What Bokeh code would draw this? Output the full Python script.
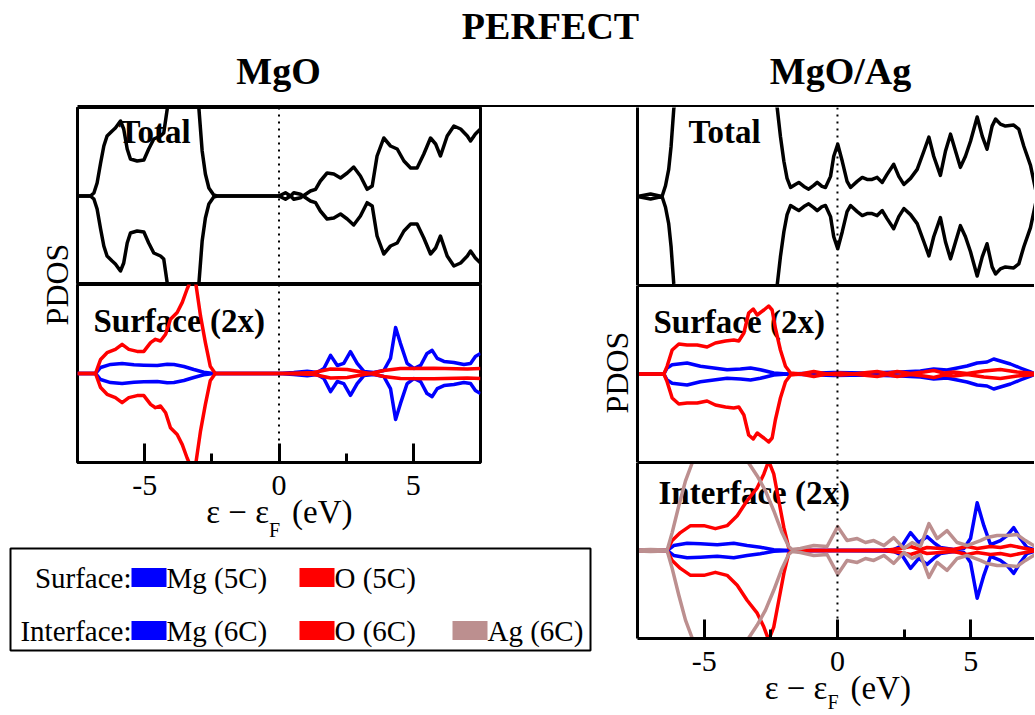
import math
from bokeh.plotting import figure
from bokeh.layouts import column, row
from bokeh.models import Range1d, LinearAxis, FixedTicker, Label, Span
from bokeh.embed import file_html
from bokeh.resources import INLINE
from bokeh.core.properties import value

FONT = "Liberation Serif"
BLUE, RED, BROWN = "#0000FF", "#FF0000", "#BC8F8F"

# ---------------- data (energy in eV relative to E_F, spin-up PDOS, arb. units) -------------
# spin-down channel is drawn mirrored (negative)
mgo_total_e = [-7.5, -7.02, -6.89, -6.77, -6.64, -6.52, -6.40, -6.21, -6.09, -5.90, -5.78, -5.65,
               -5.53, -5.28, -5.03, -4.85, -4.66, -4.41, -4.29, -4.16, -3.91, -3.60, -3.29, -3.11,
               -2.98, -2.86, -2.74, -2.61, -2.43, -2.30, 0.0, 0.24, 0.43, 0.55, 0.80, 1.17, 1.36,
               1.54, 1.79, 2.04, 2.29, 2.54, 2.78, 3.03, 3.28, 3.47, 3.65, 3.90, 4.15, 4.40, 4.65,
               4.90, 5.14, 5.39, 5.64, 5.83, 6.01, 6.26, 6.51, 6.76, 7.01, 7.13, 7.31, 7.5]
mgo_total = [0, 0, 0.3, 1.3, 3.3, 5.0, 6.0, 6.5, 6.8, 7.5, 6.7, 4.7, 3.7, 3.5, 3.6, 4.7, 5.7, 6.0,
             6.3, 8.7, 12.0, 14.0, 15.0, 12.0, 8.7, 4.5, 2.2, 0.8, 0.1, 0, 0, 0.33, 0, -0.33, -0.17,
             0.5, 0.67, 1.5, 2.3, 2.2, 1.8, 2.3, 2.9, 2.0, 0.67, 1.0, 4.0, 5.8, 5.0, 4.7, 3.5, 2.8,
             2.8, 4.2, 5.8, 5.2, 4.0, 6.0, 7.0, 6.7, 6.0, 5.5, 6.2, 6.7]

mgo_surf_o_e = [-7.5, -6.83, -6.64, -6.40, -6.09, -5.84, -5.59, -5.28, -5.03, -4.78, -4.60, -4.41,
                -4.22, -4.04, -3.79, -3.60, -3.42, -3.29, -3.19, -3.11, -2.92, -2.74, -2.56, -2.37,
                0.0, 0.80, 1.30, 1.92, 2.54, 3.16, 3.41, 3.90, 4.52, 5.76, 7.01, 7.5]
mgo_surf_o = [0, 0, 1.4, 2.07, 2.4, 2.9, 2.4, 2.2, 2.2, 3.07, 3.4, 3.23, 3.9, 5.4, 6.07, 7.07, 8.4,
              9.2, 10.0, 9.2, 5.7, 3.07, 0.73, 0, 0, 0.05, 0.1, 0.45, 0.4, 0.1, 0, 0.3, 0.5, 0.53,
              0.45, 0.5]

mgo_surf_mg_e = [-7.5, -6.83, -6.64, -6.27, -5.84, -5.40, -5.03, -4.53, -4.16, -3.91, -3.54, -3.17,
                 -2.80, -2.43, 0.0, 0.55, 1.05, 1.42, 1.67, 1.92, 2.17, 2.41, 2.66, 2.91, 3.16,
                 3.53, 3.90, 4.15, 4.34, 4.52, 4.77, 5.02, 5.27, 5.51, 5.70, 5.89, 6.14, 6.51,
                 6.88, 7.13, 7.31, 7.5]
mgo_surf_mg = [0, 0, 0.6, 0.9, 1.0, 0.87, 0.83, 0.8, 0.93, 0.9, 0.7, 0.4, 0.13, 0, 0, 0.1, 0.23,
               0.1, 0.5, 1.8, 0.8, 1.0, 2.17, 1.0, 0.2, 0.1, 0.3, 1.5, 4.57, 3.0, 1.0, 0.5, 0.8,
               2.0, 2.3, 1.5, 1.2, 1.1, 0.9, 1.0, 1.7, 2.0]

ag_total_e = [-7.5, -7.01, -6.58, -6.45, -6.33, -6.24, -6.14, -5.9, -5.5, -5.0, -4.5, -4.0, -3.5,
              -3.0, -2.6, -2.4, -2.26, -2.14, -2.01, -1.89, -1.76, -1.58, -1.45, -1.26, -1.08,
              -0.89, -0.76, -0.58, -0.45, -0.26, -0.14, 0.01, 0.18, 0.36, 0.49, 0.74, 0.93, 1.11,
              1.30, 1.49, 1.68, 1.86, 2.11, 2.30, 2.49, 2.74, 2.99, 3.24, 3.43, 3.61, 3.86, 4.05,
              4.24, 4.43, 4.61, 4.80, 4.99, 5.24, 5.43, 5.61, 5.80, 5.93, 6.11, 6.30, 6.61, 6.80,
              6.99, 7.24, 7.43, 7.5]
ag_total = [0, 0.25, 0, 1.07, 2.7, 5.0, 8.7, 12.5, 14.0, 13.0, 13.5, 14.5, 14.0, 15.0, 13.0, 10.5,
            8.8, 6.0, 3.5, 1.8, 0.9, 1.2, 1.4, 1.0, 0.73, 1.1, 1.4, 1.0, 0.9, 2.0, 4.0, 5.2, 3.5,
            1.5, 0.9, 1.5, 1.9, 1.7, 1.7, 1.9, 1.4, 2.2, 3.2, 2.0, 1.2, 1.8, 2.7, 4.5, 5.9, 4.0,
            2.1, 4.5, 6.2, 4.5, 2.9, 4.0, 5.5, 7.9, 6.0, 4.7, 7.0, 7.7, 7.2, 7.0, 7.1, 6.7, 5.0,
            3.1, 0.7, 0.3]

ag_surf_o_e = [-7.5, -6.51, -6.39, -6.2, -5.95, -5.64, -5.26, -4.89, -4.58, -4.2, -3.89, -3.7,
               -3.51, -3.33, -3.16, -3.01, -2.76, -2.58, -2.45, -2.33, -2.14, -1.95, -1.76, -1.39,
               -0.89, -0.39, 0.11, 0.61, 1.11, 1.49, 1.86, 2.24, 2.74, 3.24, 3.61, 3.99, 4.36,
               4.86, 5.49, 6.11, 6.74, 7.43, 7.5]
ag_surf_o = [0, 0, 0.77, 2.4, 3.0, 2.9, 2.9, 2.7, 3.1, 3.3, 3.4, 3.3, 4.1, 6.1, 6.5, 5.9, 6.4, 6.8,
             6.4, 4.6, 2.4, 0.77, 0.1, 0, 0.25, 0, 0.1, 0, 0.15, 0.25, 0.05, 0.25, 0.05, 0.2, 0.35,
             0.1, 0.2, 0.05, 0.3, 0.45, 0.2, 0.05, 0.05]

ag_surf_mg_e = [-7.5, -6.51, -6.39, -6.2, -5.64, -5.14, -4.64, -4.14, -3.64, -3.26, -2.89, -2.39,
                -1.89, -0.14, 1.11, 2.36, 3.11, 3.61, 4.11, 4.49, 4.86, 5.24, 5.61, 5.86, 6.11,
                6.49, 6.86, 7.24, 7.43, 7.5]
ag_surf_mg = [0, 0, 0.6, 0.93, 1.1, 0.77, 0.6, 0.43, 0.5, 0.6, 0.43, 0.1, 0, 0.15, 0.1, 0.2, 0.3,
              0.5, 0.4, 0.6, 0.8, 1.1, 1.2, 1.5, 1.3, 1.0, 0.6, 0.2, 0, 0]

ag_int_o_e = [-7.5, -6.39, -6.2, -5.89, -5.51, -5.01, -4.58, -4.14, -3.76, -3.39, -3.01, -2.76,
              -2.58, -2.39, -2.2, -2.01, -1.83, -1.7, 1.74, 2.36, 2.74, 3.11, 3.36, 3.86, 4.36,
              4.86, 5.24, 5.74, 6.11, 6.49, 6.86, 7.24, 7.5]
ag_int_o = [0, 0, 1.0, 1.8, 2.5, 2.5, 2.2, 2.5, 3.5, 5.0, 6.3, 7.7, 9.0, 7.7, 5.0, 2.3, 0.3, 0, 0,
            0.2, 0.4, 0.1, 0.3, 0.2, 0.1, 0.4, 0.2, 0.4, 0.3, 0.5, 0.3, 0.1, 0]

ag_int_mg_e = [-7.5, -6.39, -6.14, -5.64, -5.14, -4.51, -3.89, -3.39, -2.89, -2.39, -1.76, 1.74,
               2.11, 2.43, 2.74, 3.05, 3.36, 3.61, 3.86, 4.36, 4.74, 4.99, 5.24, 5.49, 5.74, 6.11,
               6.36, 6.61, 6.86, 7.11, 7.36, 7.5]
ag_int_mg = [0, 0, 0.5, 0.73, 0.67, 0.57, 0.73, 0.5, 0.33, 0.07, 0, 0.05, 0.1, 0.5, 1.8, 0.8, 1.4,
             0.8, 0.3, 0.1, 0.2, 1.2, 4.8, 2.5, 0.6, 1.0, 1.5, 2.3, 1.2, 0.3, 0.1, 0]

ag_int_ag_e = [-7.5, -7.01, -6.45, -6.39, -6.2, -5.95, -5.7, -5.45, -5.14, -4.64, -4.14, -3.64,
               -3.33, -3.01, -2.7, -2.39, -2.08, -1.83, -1.7, -1.39, -0.89, -0.39, 0.01, 0.36,
               0.74, 1.05, 1.36, 1.74, 2.11, 2.49, 2.8, 3.11, 3.43, 3.74, 4.11, 4.49, 4.86, 5.36,
               5.61, 5.99, 6.36, 6.74, 7.05, 7.36, 7.5]
ag_int_ag = [0.05, 0.1, 0.05, 0, 1.8, 4.5, 7.0, 8.8, 10.5, 12.0, 12.5, 11.0, 8.8, 7.5, 6.0, 4.0,
             1.8, 0.4, 0.1, 0.2, 0.5, 0.4, 2.4, 1.0, 1.2, 0.8, 1.0, 0.5, 1.3, 0.2, 0.8, 0.4, 2.7,
             1.2, 2.0, 0.8, 0.5, 1.0, 1.3, 1.5, 1.5, 1.6, 1.0, 0.5, 0.4]

x_ticks = [-5, 0, 5]
x_tick_labels = ["-5", "0", "5"]
x_minor_ticks = [-2.5, 2.5]
legend_rows = ["Surface:", "Interface:"]
legend_items = [["Mg (5C)", "O (5C)"], ["Mg (6C)", "O (6C)", "Ag (6C)"]]
legend_colors = [[BLUE, RED], [BLUE, RED, BROWN]]

# ---------------- layout constants ----------------
YLIM = 8.85
LW = 3.5
LEFT_X = Range1d(-7.5, 7.5)
RIGHT_X = Range1d(-7.5, 7.39)
LW_FIG, RW_FIG = 517, 399       # panel figure widths (left / right column)


def base(w, h, xr, yr, lb=0, rb=0, tb=0, bb=0):
    p = figure(width=w, height=h, x_range=xr, y_range=yr,
               x_axis_type=None, y_axis_type=None, toolbar_location=None,
               output_backend="svg", title=None,
               min_border_left=lb, min_border_right=rb, min_border_top=tb, min_border_bottom=bb)
    p.outline_line_color = None
    p.border_fill_color = "white"
    p.background_fill_color = "white"
    return p


def panel(xr, w, h, lb, rb, bb, outline):
    p = base(w, h, xr, Range1d(-YLIM, YLIM), lb, rb, 0, bb)
    if outline:
        p.outline_line_color = "black"
        p.outline_line_width = 3
    p.add_layout(Span(location=0, dimension="height", line_color="black",
                      line_width=2, line_dash="2 5"))
    return p


def line_axis(p, side):
    ax = LinearAxis(ticker=FixedTicker(ticks=[]), major_tick_in=0, major_tick_out=0,
                    minor_tick_in=0, minor_tick_out=0, axis_line_width=3,
                    major_label_standoff=0, major_label_text_font_size="0px")
    p.add_layout(ax, side)


def tick_axis(p):
    ax = LinearAxis(ticker=FixedTicker(ticks=x_ticks, minor_ticks=x_minor_ticks),
                    major_tick_in=19, major_tick_out=0, minor_tick_in=9, minor_tick_out=0,
                    major_tick_line_width=3, minor_tick_line_width=3, axis_line_width=3,
                    major_label_standoff=0, major_label_text_font_size="0px",
                    major_label_overrides={t: "" for t in x_ticks})
    p.add_layout(ax, "below")


def xlabel_fig(xr, w, h, lb, rb, y_ticks, y_lab, y_sub):
    p = base(w, h, xr, Range1d(0, h), lb, rb, 0, 0)
    p.text(x=x_ticks, y=[y_ticks] * len(x_ticks), text=x_tick_labels, text_font=value(FONT),
           text_font_size="30px", text_align="center", text_baseline="middle",
           text_color="black")
    p.text(x=[0], y=[y_lab], text=["ε − ε"], x_offset=-10, text_font=value(FONT),
           text_font_size="33px", text_align="right", text_baseline="middle",
           text_color="black")
    p.text(x=[0], y=[y_sub], text=["F"], x_offset=-10, text_font=value(FONT),
           text_font_size="20px", text_align="left", text_baseline="middle",
           text_color="black")
    p.text(x=[0], y=[y_lab], text=["(eV)"], x_offset=13, text_font=value(FONT),
           text_font_size="33px", text_align="left", text_baseline="middle",
           text_color="black")
    return p


def tag(p, text, x, y):
    p.add_layout(Label(x=x, y=y, x_units="screen", y_units="screen", text=text,
                       text_font=FONT, text_font_size="33px", text_font_style="bold",
                       text_color="black", text_align="left", text_baseline="middle",
                       level="underlay"))


def spin(p, e, v, color):
    p.line(e, v, line_color=color, line_width=LW, line_join="round")
    p.line(e, [-a for a in v], line_color=color, line_width=LW, line_join="round")


def textfig(w, h):
    return base(w, h, Range1d(0, w), Range1d(0, h))


# ---------------- header ----------------
header = textfig(1034, 107)
header.text(x=[550], y=[81.5], text=["PERFECT"], text_font=value(FONT), text_font_size="38px",
            text_font_style="bold", text_align="center", text_baseline="middle")
header.text(x=[278, 840], y=[36.5, 36.5], text=["MgO", "MgO/Ag"], text_font=value(FONT),
            text_font_size="38px", text_font_style="bold", text_align="center",
            text_baseline="middle")
header.segment(x0=[77], y0=[1], x1=[1034], y1=[1], line_color="black", line_width=3)

# ---------------- left column (MgO) ----------------
L_total = panel(LEFT_X, LW_FIG, 177, 2, 112, 0, True)
tag(L_total, "Total", 41, 153)
spin(L_total, mgo_total_e, mgo_total, "black")

L_surf = panel(LEFT_X, LW_FIG, 181, 2, 112, 3, True)
tag(L_surf, "Surface (2x)", 16, 142)
spin(L_surf, mgo_surf_mg_e, mgo_surf_mg, BLUE)
spin(L_surf, mgo_surf_o_e, mgo_surf_o, RED)
tick_axis(L_surf)

L_xlab = xlabel_fig(LEFT_X, LW_FIG, 80, 2, 112, 60.5, 34, 16)

L_pdos = textfig(75, 438)
L_pdos.text(x=[56], y=[261], text=["PDOS"], angle=math.pi / 2, text_font=value(FONT),
            text_font_size="32px", text_align="center", text_baseline="middle")

leg = textfig(592, 120)
leg.quad(left=[10], right=[590], top=[117], bottom=[15], fill_color=None,
         line_color="black", line_width=2)
row_y = [88, 35]
item_x = [131, 299, 452]
for r, (lab, items, cols) in enumerate(zip(legend_rows, legend_items, legend_colors)):
    leg.text(x=[item_x[0]], y=[row_y[r]], text=[lab], text_font=value(FONT),
             text_font_size="29px", text_align="right", text_baseline="middle")
    xs = item_x[:len(items)]
    leg.rect(x=[x + 17.5 for x in xs], y=[row_y[r]] * len(xs), width=35, height=19,
             fill_color=cols, line_color=None)
    leg.text(x=[x + 35 for x in xs], y=[row_y[r]] * len(xs), text=items, text_font=value(FONT),
             text_font_size="29px", text_align="left", text_baseline="middle")

left_col = column(row(L_pdos, column(L_total, L_surf, L_xlab)), leg)

# ---------------- right column (MgO/Ag) ----------------
R_total = panel(RIGHT_X, RW_FIG, 178, 2, 0, 0, False)
line_axis(R_total, "left")
line_axis(R_total, "below")
tag(R_total, "Total", 51, 154)
spin(R_total, ag_total_e, ag_total, "black")

R_surf = panel(RIGHT_X, RW_FIG, 177, 2, 0, 0, False)
line_axis(R_surf, "left")
line_axis(R_surf, "above")
line_axis(R_surf, "below")
tag(R_surf, "Surface (2x)", 16, 141)
spin(R_surf, ag_surf_mg_e, ag_surf_mg, BLUE)
spin(R_surf, ag_surf_o_e, ag_surf_o, RED)

R_int = panel(RIGHT_X, RW_FIG, 179, 2, 0, 3, False)
line_axis(R_int, "left")
line_axis(R_int, "above")
tick_axis(R_int)
tag(R_int, "Interface (2x)", 21, 146)
spin(R_int, ag_int_mg_e, ag_int_mg, BLUE)
spin(R_int, ag_int_o_e, ag_int_o, RED)
spin(R_int, ag_int_ag_e, ag_int_ag, BROWN)

R_xlab = xlabel_fig(RIGHT_X, RW_FIG, 72, 2, 0, 52.5, 26, 11.5)

R_pdos = textfig(43, 606)
R_pdos.text(x=[24], y=[341], text=["PDOS"], angle=math.pi / 2, text_font=value(FONT),
            text_font_size="32px", text_align="center", text_baseline="middle")

right_col = row(R_pdos, column(R_total, R_surf, R_int, R_xlab))

layout = column(header, row(left_col, right_col))
open("out.html", "w").write(file_html(layout, INLINE))
